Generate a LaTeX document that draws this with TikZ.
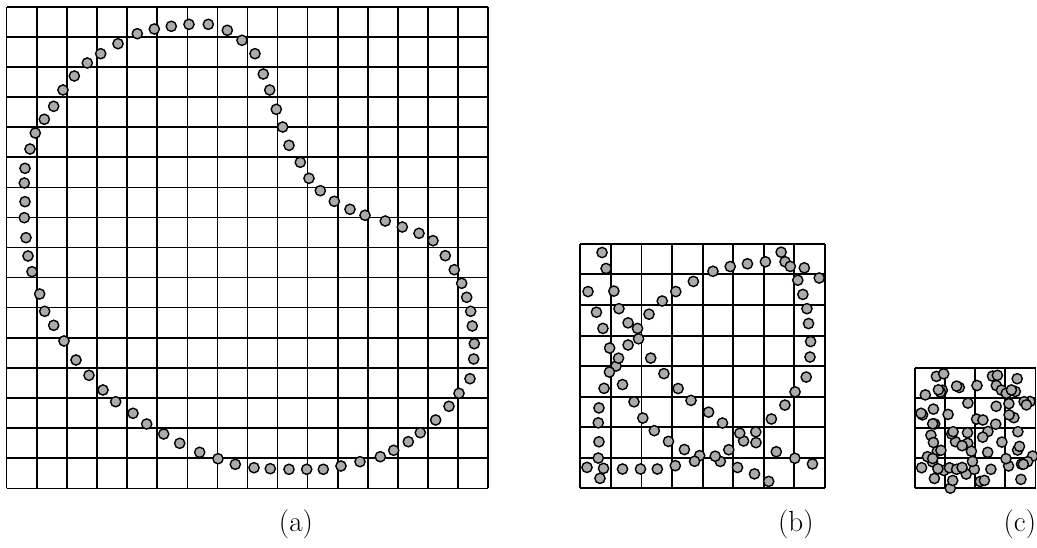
\documentclass[tikz,border=0pt]{standalone}
\usepackage{tikz}
\usetikzlibrary{positioning}
% sample points of the closed curve, in cells of panel (a)
\newcommand{\curvepts}{4.339/15.103, 4.904/15.259, 5.468/15.349, 6.056/15.415, 6.698/15.415,
  7.329/15.216, 7.817/14.884, 8.249/14.439, 8.525/13.764, 8.738/13.233, 8.957/12.591,
  9.169/12.003, 9.379/11.395, 9.754/10.831, 10.043/10.299, 10.419/9.887, 10.884/9.535,
  11.405/9.269, 11.904/9.070, 12.578/8.880, 13.143/8.681, 13.698/8.472, 14.163/8.226,
  14.571/7.728, 14.870/7.262, 15.116/6.811, 15.282/6.346, 15.415/5.880, 15.468/5.392,
  15.535/4.804, 15.515/4.296, 15.392/3.641, 15.027/3.156, 14.694/2.724, 14.252/2.269,
  13.741/1.847, 13.342/1.548, 12.857/1.262, 12.412/1.050, 11.738/0.884, 11.106/0.741,
  10.518/0.631, 9.967/0.631, 9.379/0.631, 8.757/0.651, 8.216/0.684, 7.595/0.797,
  7.020/0.983, 6.412/1.196, 5.748/1.495, 5.216/1.804, 4.651/2.136, 4.196/2.492,
  3.621/2.877, 3.199/3.266, 2.734/3.754, 2.302/4.262, 1.904/4.894, 1.561/5.415,
  1.262/5.880, 1.096/6.455, 0.841/7.196, 0.708/7.718, 0.641/8.326, 0.585/8.990,
  0.608/9.522, 0.585/10.143, 0.608/10.631, 0.774/11.272, 0.950/11.804, 1.249/12.259,
  1.561/12.691, 1.870/13.233, 2.246/13.698, 2.678/14.130, 3.123/14.439, 3.698/14.771}

\begin{document}
\begin{tikzpicture}[x=0.8cm, y=0.8cm,
  gridline/.style={line width=1.2pt, step={(1,1)}},
  thickgrid/.style={line width=1.45pt, step={(1,1)}},
  dot/.style={draw=black, fill=black!33, line width=1.05pt},
  lab/.style={font=\fontsize{22}{26}\selectfont}]
\useasboundingbox (-0.2226,-1.983) rectangle (34.23,16.223);
% (a) full grid
\draw[gridline] (0,0) grid (16,16);
\foreach \x/\y in \curvepts \draw[dot] (\x,\y) circle (0.17);
% (b) folded into 8x8 cells
\begin{scope}[shift={(19.06,0)}, scale=1.015]
\draw[thickgrid] (0,0) grid (8,8);
\foreach \x/\y in \curvepts {
  \pgfmathsetmacro{\mx}{mod(\x,8)}
  \pgfmathsetmacro{\my}{mod(\y,8)}
  \draw[dot] (\mx,\my) circle (0.168);
}
\end{scope}
% (c) folded into 4x4 cells
\begin{scope}[shift={(30.18,0)}]
\draw[thickgrid] (0,0) grid (4,4);
\foreach \x/\y in \curvepts {
  \pgfmathsetmacro{\mx}{mod(\x,4)}
  \pgfmathsetmacro{\my}{mod(\y,4)}
  \draw[dot] (\mx,\my) circle (0.17);
}
\end{scope}
\node[lab] (laba) at (9.61,-1.2) {(a)};
\node[lab] (labb) at (26.22,-1.2) {(b)};
\node[lab] (labc) at (33.66,-1.2) {(c)};
\end{tikzpicture}
\end{document}
